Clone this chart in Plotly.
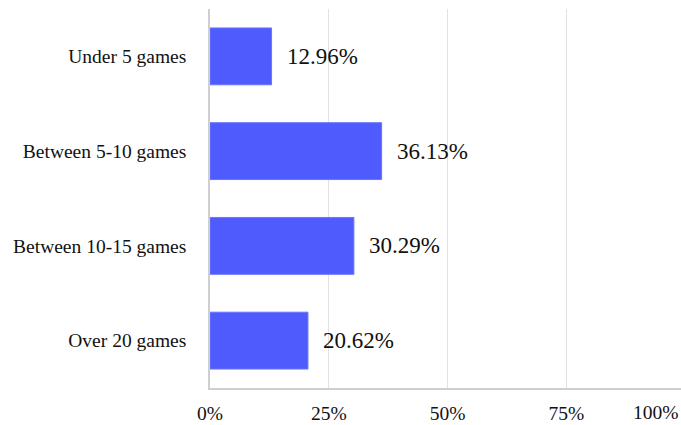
import plotly.graph_objects as go

categories = ["Under 5 games", "Between 5-10 games", "Between 10-15 games", "Over 20 games"]
values = [12.96, 36.13, 30.29, 20.62]
tick_vals = [0, 25, 50, 75]
tick_text = ["0%", "25%", "50%", "75%"]
last_tick_text = "100%"

FONT = "Liberation Serif, Times New Roman, serif"
W, H = 681, 425
ML, MR, MT, MB = 210, 0, 9, 37
plot_w = W - ML - MR
x_max = 100 * plot_w / 475.0

fig = go.Figure()
fig.add_trace(go.Bar(
    y=categories, x=values, orientation="h",
    marker=dict(color="#4f5bfd", line=dict(color="#6a74ff", width=1)),
    hoverinfo="skip",
))

for c, v in zip(categories, values):
    fig.add_annotation(x=v, y=c, text=f"{v:.2f}%", showarrow=False,
                       xanchor="left", yanchor="middle", xshift=13, yshift=0,
                       font=dict(family=FONT, size=23, color="#111"))

fig.add_annotation(x=1, xref="paper", y=0, yref="paper", text=last_tick_text,
                   showarrow=False, xanchor="right", yanchor="top", xshift=0, yshift=-12,
                   font=dict(family=FONT, size=19.5, color="#111"))

fig.update_layout(
    width=W, height=H,
    margin=dict(l=ML, r=MR, t=MT, b=MB, autoexpand=False),
    plot_bgcolor="white", paper_bgcolor="white",
    bargap=0.40, showlegend=False,
    font=dict(family=FONT, size=19.5, color="#111"),
    xaxis=dict(range=[0, x_max], tickvals=tick_vals, ticktext=tick_text,
               showgrid=True, gridcolor="#e2e2e2", gridwidth=1, automargin=False,
               zeroline=False, showline=True, linecolor="#cfcfcf", linewidth=1.5,
               ticks="", ticklabelstandoff=7, fixedrange=True),
    yaxis=dict(categoryorder="array", categoryarray=categories[::-1], automargin=False,
               showgrid=False, zeroline=False, showline=True, linecolor="#cfcfcf",
               linewidth=1.5, ticks="", ticklabelstandoff=18, fixedrange=True),
)

fig.write_html("out.html", config={"displayModeBar": False},
               post_script="document.body.style.margin='0';")
